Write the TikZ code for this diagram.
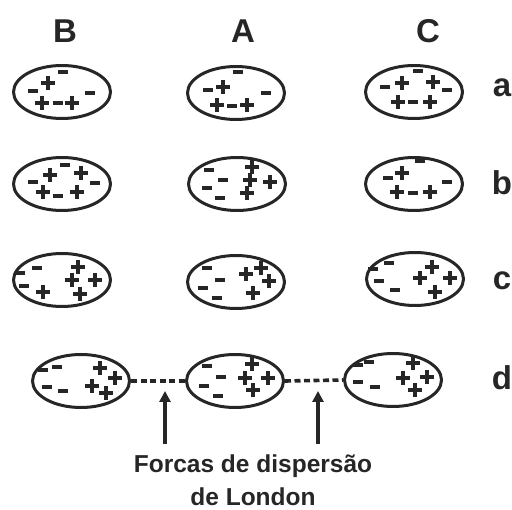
\documentclass[tikz,border=0pt]{standalone}
\usepackage{fontspec}
\setmainfont{Liberation Sans}
\usetikzlibrary{shapes.geometric,arrows.meta}
\definecolor{ink}{HTML}{262626}
\begin{document}
\begin{tikzpicture}[x=1pt,y=-1pt,
  mol/.style={draw=ink,line width=3pt,ellipse,minimum width=97pt,minimum height=53pt,inner sep=0pt},
  chg/.style={draw=ink,line width=3.2pt},
  head/.style={text=ink,font=\fontsize{33}{33}\selectfont\bfseries,anchor=base,inner sep=0pt},
  caption/.style={text=ink,font=\fontsize{24.5}{24.5}\selectfont\bfseries,anchor=base,inner sep=0pt},
  link/.style={draw=ink,line width=3.6pt,dash pattern=on 6pt off 3.5pt},
  pointer/.style={draw=ink,line width=4pt,-{Triangle[width=11pt,length=11pt]}},
  pos/.pic={\draw[chg] (-7,0) -- (7,0) (0,-7) -- (0,7);},
  neg/.pic={\draw[chg] (-5,0) -- (5,0);}
]
\useasboundingbox (0,0) rectangle (512,510);

% column and row headings
\node[head] (hB) at (65,43) {B};
\node[head] (hA) at (243,43) {A};
\node[head] (hC) at (428,43) {C};
\node[head] (ra) at (502,97) {a};
\node[head] (rb) at (502,195) {b};
\node[head] (rc) at (502,290) {c};
\node[head] (rd) at (502,390) {d};

% molecules
\node[mol] (aB) at (62,92) {};
\node[mol] (aA) at (236,93) {};
\node[mol] (aC) at (414,92) {};
\node[mol] (bB) at (62,184) {};
\node[mol] (bA) at (237,184) {};
\node[mol] (bC) at (414,184) {};
\node[mol] (cB) at (62,280) {};
\node[mol] (cA) at (236,282) {};
\node[mol] (cC) at (415,279) {};
\node[mol] (dB) at (81,381) {};
\node[mol] (dA) at (235,381) {};
\node[mol] (dC) at (393,380) {};

% row a: evenly spread charges
\foreach \x/\y in {48/83,42/103,72/103, 223/87,217/105,247/105, 402/83,433/82,398/102,430/102}
  \pic at (\x,\y) {pos};
\foreach \x/\y in {63/72,33/91,90/93,58/103, 238/72,208/90,266/93,232/106, 385/87,418/71,447/90,413/102}
  \pic at (\x,\y) {neg};

% row b
\foreach \x/\y in {50/175,81/173,43/192,77/192, 252/167,250/180,270/182,247/193, 402/173,397/192,430/192}
  \pic at (\x,\y) {pos};
\foreach \x/\y in {33/182,65/165,95/183,58/196, 209/170,223/180,207/188,220/198, 420/161,388/178,447/182,413/193}
  \pic at (\x,\y) {neg};

% row c: charges separated
\foreach \x/\y in {43/292,78/267,72/280,95/280,80/294, 246/274,261/268,269/281,253/293, 432/267,420/278,450/278,435/292}
  \pic at (\x,\y) {pos};
\foreach \x/\y in {20/273,37/268,24/286, 207/268,220/280,203/288,217/298, 373/269,389/263,379/281,395/290}
  \pic at (\x,\y) {neg};

% row d: aligned dipoles
\foreach \x/\y in {100/368,115/378,92/386,106/393, 252/364,245/378,268/378,253/390, 413/363,403/378,427/377,415/390}
  \pic at (\x,\y) {pos};
\foreach \x/\y in {43/370,57/367,47/387,63/391, 207/366,221/377,204/386,218/396, 358/365,369/362,358/382,375/387}
  \pic at (\x,\y) {neg};

% dispersion forces between neighbours
\draw[link] (dB.east) -- (dA.west);
\draw[link] (dA.east) -- (dC.west);

\coordinate (t1) at (165,444);
\coordinate (p1) at (165,391);
\coordinate (t2) at (318,444);
\coordinate (p2) at (318,391);
\draw[pointer] (t1) -- (p1);
\draw[pointer] (t2) -- (p2);

\node[caption] (cap1) at (253,473) {Forcas de dispersão};
\node[caption] (cap2) at (253,506) {de London};
\end{tikzpicture}
\end{document}
